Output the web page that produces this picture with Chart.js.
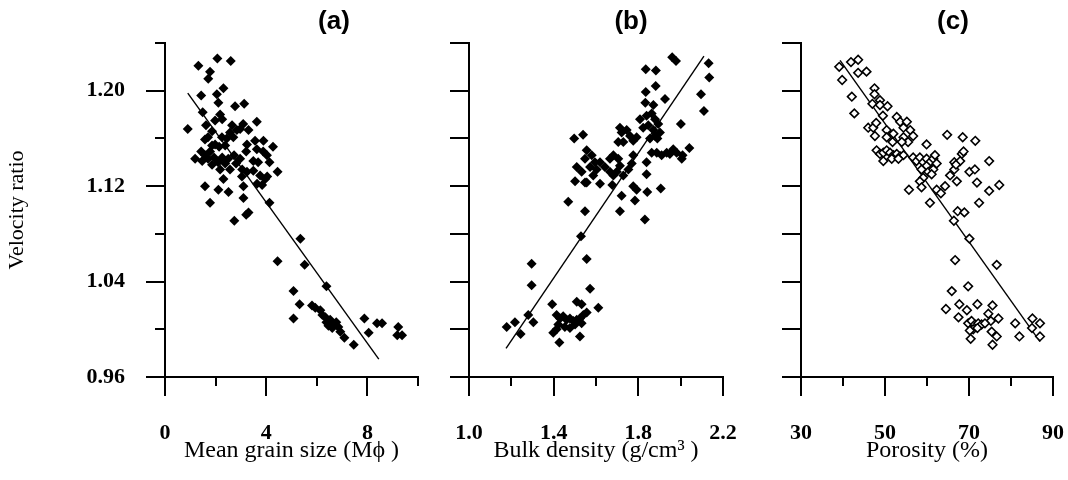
<!DOCTYPE html>
<html>
<head>
<meta charset="utf-8">
<script src="https://cdn.jsdelivr.net/npm/chart.js@4.4.1/dist/chart.umd.min.js"></script>
<style>
  html, body { margin: 0; padding: 0; background: #fff; }
  #wrap { position: relative; width: 1068px; height: 480px; overflow: hidden; }
  #wrap canvas { position: absolute; top: 0; }
</style>
</head>
<body>
<div id="wrap">
  <canvas id="chart-a" width="425" height="480" style="left:0"></canvas>
  <canvas id="chart-b" width="320" height="480" style="left:425px"></canvas>
  <canvas id="chart-c" width="323" height="480" style="left:745px"></canvas>
</div>
<script>
// ── Data ──────────────────────────────────────────────────────────────────────
// (a) velocity ratio vs mean grain size
const A_X = [1.32,2.07,2.60,1.78,1.71,2.31,1.43,2.05,2.11,2.77,3.13,1.49,2.18,2.26,1.98,3.63,0.90,1.62,1.86,1.70,
  1.58,2.57,2.84,2.97,3.30,2.25,2.44,2.70,3.24,3.56,3.89,4.27,1.19,1.43,1.58,1.78,1.70,1.94,1.47,2.10,
  1.86,2.26,2.38,2.18,2.50,2.73,2.97,3.21,2.81,2.57,3.05,3.63,3.88,4.03,3.49,3.68,4.13,4.45,3.49,3.76,
  3.96,3.64,3.84,4.04,3.24,3.04,1.58,2.11,2.51,2.31,3.10,1.78,3.10,3.30,3.21,2.74,4.13,5.35,4.45,5.52,
  6.38,5.08,5.32,5.81,5.94,6.14,5.08,6.22,6.34,6.53,6.65,6.77,6.46,6.61,6.85,6.93,6.38,7.09,7.46,7.88,
  8.05,8.38,8.58,9.22,9.18,9.37,1.98,2.14,2.38,1.86,2.65,3.09];
const A_Y = [1.221,1.227,1.225,1.216,1.210,1.202,1.196,1.197,1.190,1.187,1.189,1.182,1.180,1.176,1.175,1.174,1.168,1.171,1.166,1.161,
  1.159,1.165,1.167,1.168,1.167,1.161,1.160,1.161,1.155,1.158,1.158,1.153,1.143,1.149,1.146,1.149,1.143,1.144,1.141,1.140,
  1.138,1.144,1.139,1.134,1.143,1.146,1.143,1.149,1.139,1.134,1.134,1.151,1.149,1.146,1.141,1.140,1.140,1.132,1.133,1.129,
  1.126,1.122,1.121,1.128,1.132,1.128,1.120,1.117,1.115,1.126,1.120,1.106,1.110,1.098,1.096,1.091,1.106,1.076,1.057,1.054,
  1.036,1.032,1.021,1.020,1.018,1.016,1.009,1.012,1.010,1.008,1.004,1.006,1.003,1.001,1.002,0.998,1.006,0.993,0.987,1.009,
  0.997,1.005,1.005,1.002,0.995,0.995,1.155,1.153,1.154,1.154,1.171,1.172];
const A_FIT_X = [0.90, 8.45];
const A_FIT_Y = [1.198, 0.975];

// (b) velocity ratio vs bulk density
const B_X = [1.960,1.978,2.132,2.135,1.835,1.883,1.882,1.835,1.926,2.096,2.110,1.833,1.871,
  1.808,1.839,1.863,1.879,1.894,1.847,1.823,1.871,1.902,1.879,1.855,1.890,2.001,
  1.713,1.721,1.745,1.761,1.776,1.792,1.729,1.705,
  1.497,1.539,1.556,1.548,1.580,1.595,1.572,1.603,1.587,1.556,1.532,1.509,1.501,1.548,
  1.619,1.642,1.666,1.682,1.705,1.713,1.698,1.666,1.682,1.729,1.753,1.769,1.776,
  1.839,1.839,1.863,1.887,1.910,1.934,1.949,1.965,1.981,2.009,2.041,2.005,
  1.619,1.677,1.776,1.792,1.721,1.784,1.842,1.906,
  1.469,1.548,1.713,1.831,1.529,1.556,1.296,1.296,1.572,
  1.393,1.509,1.532,1.611,
  1.414,1.430,1.445,1.461,1.477,1.493,1.509,1.524,1.540,1.556,1.422,1.453,1.477,1.501,1.532,
  1.280,1.178,1.217,1.304,1.244,1.398,1.414,1.427,1.524];
const B_Y = [1.228,1.225,1.223,1.211,1.218,1.217,1.204,1.199,1.193,1.197,1.183,1.190,1.188,
  1.176,1.179,1.181,1.176,1.172,1.171,1.169,1.167,1.165,1.162,1.160,1.160,1.172,
  1.169,1.165,1.167,1.162,1.158,1.161,1.157,1.157,
  1.160,1.163,1.150,1.143,1.146,1.140,1.136,1.134,1.129,1.123,1.132,1.136,1.124,1.123,
  1.140,1.136,1.143,1.146,1.143,1.137,1.132,1.132,1.129,1.129,1.134,1.139,1.146,
  1.140,1.130,1.148,1.148,1.146,1.148,1.147,1.151,1.148,1.146,1.152,1.143,
  1.122,1.121,1.120,1.117,1.112,1.108,1.115,1.118,
  1.107,1.099,1.099,1.092,1.078,1.059,1.055,1.037,1.034,
  1.021,1.023,1.021,1.018,
  1.012,1.009,1.011,1.008,1.009,1.007,1.008,1.009,1.012,1.014,1.004,1.002,1.001,1.004,1.005,
  1.012,1.002,1.006,1.006,0.996,0.997,1.000,0.989,0.994];
const B_FIT_X = [1.175, 2.110];
const B_FIT_Y = [0.984, 1.229];

// (c) velocity ratio vs porosity
const C_X = [39.1,39.8,41.9,43.6,43.6,45.6,42.1,42.7,47.5,47.5,47.0,48.8,48.8,50.6,49.5,46.0,47.2,47.9,47.6,
  50.4,50.4,52.0,51.8,52.8,53.6,54.4,55.2,56.0,54.4,56.7,55.5,54.0,
  48.0,48.8,49.6,50.4,51.2,52.0,52.8,53.6,49.6,51.6,54.4,53.2,
  56.7,57.5,58.3,59.1,59.9,60.7,61.5,62.3,59.9,58.7,60.3,61.5,61.1,59.1,58.3,58.7,59.9,61.9,
  55.7,60.7,62.3,63.3,64.3,64.8,68.5,71.5,
  66.5,66.5,65.5,67.1,68.3,68.7,67.9,66.9,70.1,71.4,71.9,74.8,74.8,77.2,72.4,67.3,68.9,66.4,
  70.1,66.7,76.6,69.8,65.9,67.7,64.5,67.5,69.5,72.0,75.6,74.6,77.0,75.2,
  69.8,70.6,71.4,72.2,73.0,71.0,72.0,70.2,73.8,75.4,76.6,70.4,75.6,
  81.0,82.0,85.1,85.0,86.9,86.9];
const C_Y = [1.220,1.209,1.224,1.226,1.215,1.216,1.195,1.181,1.202,1.197,1.189,1.192,1.188,1.187,1.179,1.169,1.169,1.173,1.162,
  1.167,1.161,1.164,1.157,1.178,1.174,1.169,1.174,1.167,1.161,1.162,1.157,1.157,
  1.150,1.147,1.148,1.150,1.148,1.146,1.147,1.145,1.141,1.143,1.146,1.143,
  1.144,1.141,1.144,1.140,1.143,1.140,1.143,1.139,1.137,1.134,1.132,1.134,1.130,1.127,1.124,1.119,1.155,1.146,
  1.117,1.106,1.117,1.114,1.120,1.163,1.161,1.158,
  1.140,1.134,1.129,1.124,1.147,1.149,1.141,1.138,1.132,1.134,1.123,1.141,1.116,1.121,1.106,1.099,1.098,1.091,
  1.076,1.058,1.054,1.036,1.032,1.021,1.017,1.010,1.016,1.021,1.020,1.013,1.009,1.007,
  1.005,1.007,1.004,1.005,1.004,1.000,1.001,0.999,1.005,0.998,0.994,0.992,0.987,
  1.005,0.994,1.009,1.001,1.005,0.994];
const C_FIT_X = [39.3, 86.9];
const C_FIT_Y = [1.2255, 0.9897];

// shared axes
const Y_MIN = 0.96, Y_MAX = 1.24, Y_STEP = 0.04;

const SERIF = '"Liberation Serif", "Times New Roman", serif';
const TICK_FONT = { family: SERIF, size: 22, weight: 'bold' };
const AXIS_TITLE_FONT = { family: SERIF, size: 24 };

// ── Plugins ───────────────────────────────────────────────────────────────────
// outward tick marks, long on labelled ticks, short in between
const axisTicks = {
  id: 'axisTicks',
  afterDraw(chart, args, opts) {
    const { ctx } = chart;
    const xs = chart.scales.x, ys = chart.scales.y;
    ctx.save();
    ctx.strokeStyle = '#000';
    ctx.lineWidth = 2;
    xs.ticks.forEach((t, i) => {
      const px = Math.round(xs.getPixelForValue(t.value));
      const len = i % 2 === 0 ? opts.xMajor : opts.xMinor;
      ctx.beginPath();
      ctx.moveTo(px, xs.top);
      ctx.lineTo(px, xs.top + len);
      ctx.stroke();
    });
    ys.ticks.forEach((t, i) => {
      const py = Math.round(ys.getPixelForValue(t.value));
      const len = i % 2 === 0 ? opts.yMajor : opts.yMinor;
      ctx.beginPath();
      ctx.moveTo(ys.right, py);
      ctx.lineTo(ys.right - len, py);
      ctx.stroke();
    });
    ctx.restore();
  },
};

const panelTitle = {
  id: 'panelTitle',
  afterDraw(chart, args, opts) {
    const { ctx, chartArea } = chart;
    ctx.save();
    ctx.font = 'bold 26px "Liberation Sans", Arial, sans-serif';
    ctx.fillStyle = '#000';
    ctx.textAlign = 'center';
    ctx.textBaseline = 'middle';
    ctx.fillText(opts.text, chartArea.left + opts.dx, opts.y);
    ctx.restore();
  },
};

function _pairs(xs, ys) {
  return xs.map((x, i) => ({ x, y: ys[i] }));
}

// the library's own tick lines are kept only for spacing; plugin draws the visible ones
function _hiddenTicks(len) {
  return { display: true, drawOnChartArea: false, drawTicks: true, tickLength: len, color: 'rgba(0,0,0,0)' };
}

// ── Panel builder ─────────────────────────────────────────────────────────────
function renderPanel(id, p) {
  const ctx = document.getElementById(id);
  return new Chart(ctx, {
    type: 'scatter',
    data: {
      datasets: [
        {
          data: _pairs(p.xs, p.ys),
          pointStyle: 'rectRot',
          pointRadius: p.hollow ? 4.3 : 5,
          backgroundColor: p.hollow ? '#fff' : '#000',
          borderColor: '#000',
          borderWidth: p.hollow ? 1.6 : 0,
        },
        {
          data: _pairs(p.fitX, p.fitY),
          showLine: true,
          pointRadius: 0,
          borderColor: '#000',
          borderWidth: 1.4,
        },
      ],
    },
    plugins: [axisTicks, panelTitle],
    options: {
      responsive: false,
      animation: false,
      layout: { padding: { top: 43, left: 0, right: p.padRight, bottom: 0 } },
      plugins: {
        legend: { display: false },
        tooltip: { enabled: false },
        axisTicks: { xMajor: 19, xMinor: 9, yMajor: 19, yMinor: p.yMinor },
        panelTitle: { text: p.title, dx: p.titleDx, y: 22 },
      },
      scales: {
        x: {
          type: 'linear',
          min: p.xMin, max: p.xMax,
          ticks: {
            stepSize: p.xStep,
            autoSkip: false,
            maxRotation: 0,
            color: '#000',
            font: TICK_FONT,
            padding: 3,
            callback: (v, i) => (i % 2 === 0 ? v.toFixed(p.xDigits) : ''),
          },
          grid: _hiddenTicks(40),
          border: { display: true, color: '#000', width: 2 },
          title: { display: true, text: p.xTitle, color: '#000', font: AXIS_TITLE_FONT, padding: { bottom: 15 } },
          afterFit: s => { s.height = 103; },
        },
        y: {
          type: 'linear',
          min: Y_MIN, max: Y_MAX,
          ticks: {
            stepSize: Y_STEP,
            color: '#000',
            font: TICK_FONT,
            padding: 3,
            callback: (v, i) => (p.yLabels && i % 2 === 0 ? v.toFixed(2) : ''),
          },
          grid: _hiddenTicks(37),
          border: { display: true, color: '#000', width: 2 },
          title: {
            display: !!p.yTitle,
            text: p.yTitle || '',
            color: '#000',
            font: { family: SERIF, size: 22 },
            padding: { top: 4 },
          },
          afterFit: s => { s.width = p.yWidth; },
        },
      },
    },
  });
}

renderPanel('chart-a', {
  xs: A_X, ys: A_Y, fitX: A_FIT_X, fitY: A_FIT_Y,
  xMin: 0, xMax: 10, xStep: 2, xDigits: 0,
  xTitle: 'Mean grain size (Mϕ )',
  yTitle: 'Velocity ratio', yLabels: true, yWidth: 165, yMinor: 10,
  padRight: 7, title: '(a)', titleDx: 169,
});

renderPanel('chart-b', {
  xs: B_X, ys: B_Y, fitX: B_FIT_X, fitY: B_FIT_Y,
  xMin: 1.0, xMax: 2.2, xStep: 0.2, xDigits: 1,
  xTitle: 'Bulk density (g/cm³ )',
  yLabels: false, yWidth: 44, yMinor: 19,
  padRight: 22, title: '(b)', titleDx: 162,
});

renderPanel('chart-c', {
  xs: C_X, ys: C_Y, fitX: C_FIT_X, fitY: C_FIT_Y, hollow: true,
  xMin: 30, xMax: 90, xStep: 10, xDigits: 0,
  xTitle: 'Porosity (%)',
  yLabels: false, yWidth: 56, yMinor: 19,
  padRight: 15, title: '(c)', titleDx: 152,
});
</script>
</body>
</html>
